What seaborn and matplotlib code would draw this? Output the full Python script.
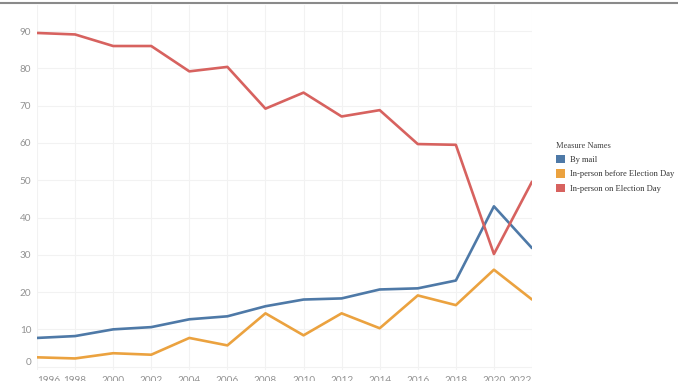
import pandas as pd
import seaborn as sns
import matplotlib.pyplot as plt
from matplotlib.patches import Patch

# values (percent of voters)
years = [1996, 1998, 2000, 2002, 2004, 2006, 2008, 2010, 2012, 2014, 2016, 2018, 2020, 2022]
by_mail = [7.7, 8.2, 10.0, 10.6, 12.7, 13.5, 16.2, 18.0, 18.3, 20.7, 21.0, 23.1, 43.0, 31.8]
before_day = [2.5, 2.2, 3.6, 3.2, 7.7, 5.7, 14.3, 8.4, 14.3, 10.3, 19.1, 16.5, 26.0, 18.0]
on_day = [89.5, 89.1, 86.0, 86.0, 79.2, 80.4, 69.2, 73.5, 67.1, 68.8, 59.7, 59.5, 30.2, 49.6]

names = ["By mail", "In-person before Election Day", "In-person on Election Day"]
colors = ["#4e79a7", "#eba23f", "#d7625f"]

df = pd.DataFrame({
    "Year": years * 3,
    "Value": by_mail + before_day + on_day,
    "Measure Names": sum([[n] * len(years) for n in names], []),
})

sns.set_style("white")
fig = plt.figure(figsize=(6.78, 3.81), dpi=100)
ax = fig.add_axes([37 / 678, 11 / 381, 495 / 678, 365 / 381])

sns.lineplot(data=df, x="Year", y="Value", hue="Measure Names",
             palette=colors, linewidth=1.9, legend=False, ax=ax)

ax.set_xlim(1996, 2022)
ax.set_ylim(-0.9, 97)
ax.set_xticks(years)
ax.set_xticklabels([str(y) for y in years], fontfamily="Lato")
ax.set_yticks(range(0, 91, 10))
ax.set_yticklabels([str(v) for v in range(0, 91, 10)], fontfamily="Lato")
ax.grid(True, color="#f2f2f2", linewidth=0.8)
ax.set_axisbelow(True)
for s in ax.spines.values():
    s.set_visible(False)
ax.tick_params(length=0, labelsize=7.2, colors="#929292")
ax.tick_params(axis="y", pad=4)
ax.tick_params(axis="x", pad=4)
ax.set_xlabel("")
ax.set_ylabel("")
labels = ax.get_xticklabels()
labels[0].set_horizontalalignment("left")
labels[-1].set_horizontalalignment("right")
ax.get_yticklabels()[0].set_verticalalignment("bottom")

# thin grey rule along the top
fig.add_artist(plt.Line2D([0, 1], [1 - 2.5 / 381, 1 - 2.5 / 381], color="#8a8a8a", linewidth=1.5))

handles = [Patch(facecolor=c, edgecolor="none") for c in colors]
leg = fig.legend(handles, names, title="Measure Names", loc="upper left",
                 bbox_to_anchor=(548 / 678, 1 - 134 / 381), frameon=False,
                 prop={"family": "Liberation Serif", "size": 6.1},
                 title_fontproperties={"family": "Liberation Serif", "size": 6.1},
                 handlelength=1.15, handleheight=1.15, handletextpad=0.6,
                 labelspacing=0.62, alignment="left")
leg.get_title().set_color("#444444")
for t in leg.get_texts():
    t.set_color("#333333")

fig.savefig("out.png", dpi=100)
